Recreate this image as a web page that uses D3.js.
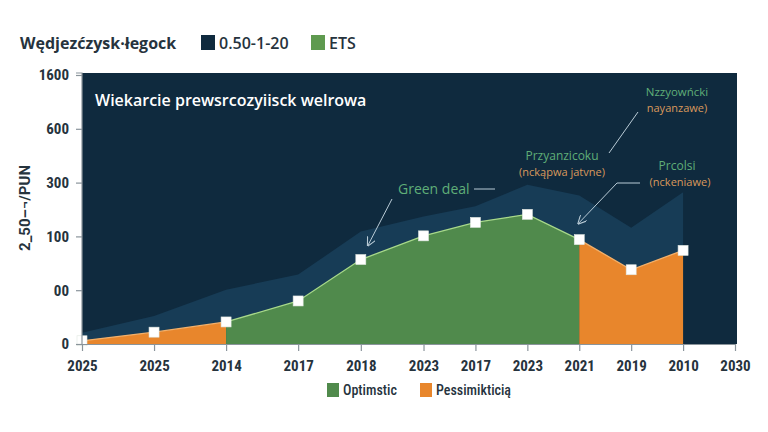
<!DOCTYPE html>
<html><head><meta charset="utf-8">
<script src="https://cdn.jsdelivr.net/npm/d3@7"></script>
<style>
html,body{margin:0;padding:0;background:#fff;}
svg{display:block;}
</style></head>
<body>
<svg id="c" width="768" height="432"></svg>
<script>
// ---- data ----
const categories = ["2025","2025","2014","2017","2018","2023","2017","2023","2021","2019","2010","2030"];
const mainValues = [6, 22, 41, 80, 157, 201, 226, 241, 194, 138, 174];
const bandValues = [21, 52, 101, 129, 209, 237, 256, 296, 276, 216, 282];
const segmentKind = ["pes","pes","opt","opt","opt","opt","opt","opt","pes","pes","pes"]; // colour of segment starting at each index
const yTickValues = [0, 100, 200, 300, 400, 500];
const yTickLabels = ["0", "00", "100", "300", "600", "1600"];
const legendTopTitle = "Wędjezćzysk·łegock";
const legendTopItems = ["0.50-1-20", "ETS"];
const legendBottomItems = ["Optimstic", "Pessimikticią"];
const yTitle = "2_50–¬/PUN";
const chartSubtitle = "Wiekarcie prewsrcozyiisck welrowa";

const C = {bg:"#0f2a3e", band:"#173c56", green:"#508a4c", orange:"#e8862c",
  gLine:"#a8d98a", oLine:"#f3b06a", text:"#26333d", gText:"#5fae78", oText:"#d9995c", axis:"#8a949b"};

const svg = d3.select("#c");
const L = 82, R = 735, T = 73, B = 344;
const W = R - L;
const x = d3.scaleLinear().domain([0, 3, 5, 11]).range([L, L + 0.331*W, L + 0.523*W, R]);
const y = d3.scaleLinear().domain([0, 500]).range([B, 75]);

// plot background
svg.append("rect").attr("x", L).attr("y", T).attr("width", R - L + 2).attr("height", B - T).attr("fill", C.bg);

// band area
const idx = d3.range(mainValues.length);
svg.append("path").datum(idx)
  .attr("fill", C.band)
  .attr("d", d3.area().x(i => x(i)).y0(y(0)).y1(i => y(bandValues[i]))(idx));

// main segments
const segs = [];
let start = 0;
for (let i = 1; i < mainValues.length; i++) {
  if (i === mainValues.length - 1 || segmentKind[i] !== segmentKind[start]) {
    segs.push({kind: segmentKind[start], from: start, to: i});
    start = i;
  }
}
const area = d3.area().x(i => x(i)).y0(y(0)).y1(i => y(mainValues[i]));
const line = d3.line().x(i => x(i)).y(i => y(mainValues[i]));
segs.forEach(s => {
  const ids = d3.range(s.from, s.to + 1);
  svg.append("path").attr("fill", s.kind === "opt" ? C.green : C.orange).attr("d", area(ids));
});
segs.forEach(s => {
  const ids = d3.range(s.from, s.to + 1);
  svg.append("path").attr("fill", "none").attr("stroke", s.kind === "opt" ? C.gLine : C.oLine)
    .attr("stroke-width", 1.3).attr("d", line(ids));
});

// markers
svg.selectAll("rect.m").data(idx).enter().append("rect")
  .attr("class", "m")
  .attr("x", i => x(i) - 5).attr("y", i => y(mainValues[i]) - 5)
  .attr("width", 10).attr("height", 10)
  .attr("fill", "#ffffff").attr("stroke", "#dfe6e0").attr("stroke-width", 0.6);

// axes
const fontAxis = "'Liberation Sans Narrow','Roboto Condensed',Roboto,sans-serif";
const yAxis = d3.axisLeft(y).tickValues(yTickValues).tickFormat((d, i) => yTickLabels[i]).tickSize(6).tickPadding(7);
const gy = svg.append("g").attr("transform", `translate(${L},0)`).call(yAxis);
gy.select(".domain").attr("stroke", C.axis).attr("stroke-width", 1.2).attr("d", `M-6,${T}H0V${B}`);
gy.selectAll(".tick line").attr("stroke", C.axis).attr("stroke-width", 1.2);
gy.selectAll(".tick text").attr("fill", C.text).style("font-family", fontAxis)
  .style("font-size", "15px").style("font-weight", "bold");

const xAxis = d3.axisBottom(x).tickValues(d3.range(categories.length)).tickFormat(i => categories[i]).tickSize(7).tickSizeOuter(0).tickPadding(9);
const gx = svg.append("g").attr("transform", `translate(0,${B})`).call(xAxis);
gx.select(".domain").attr("stroke", C.axis).attr("stroke-width", 1.2);
gx.selectAll(".tick line").attr("stroke", C.axis).attr("stroke-width", 1.2);
gx.selectAll(".tick text").attr("fill", C.text).style("font-family", fontAxis)
  .style("font-size", "15px").style("font-weight", "bold");

// y title
svg.append("text").attr("transform", "translate(30,208) rotate(-90)")
  .attr("text-anchor", "middle").attr("fill", C.text)
  .style("font-family", "Roboto,sans-serif").style("font-size", "15px").style("font-weight", "bold")
  .text(yTitle);

// subtitle inside plot
svg.append("text").attr("x", 95).attr("y", 106).attr("fill", "#ffffff")
  .style("font-family", "'Open Sans',sans-serif").style("font-size", "16px").style("font-weight", "600")
  .text(chartSubtitle);

// top legend
const fontLeg = "'Open Sans',Roboto,sans-serif";
svg.append("text").attr("x", 20).attr("y", 49).attr("fill", C.text)
  .style("font-family", fontLeg).style("font-size", "16px").style("font-weight", "bold")
  .text(legendTopTitle);
const topCols = [C.bg, "#5f9a4f"];
const topX = [201, 311];
legendTopItems.forEach((t, i) => {
  svg.append("rect").attr("x", topX[i]).attr("y", 35).attr("width", 14).attr("height", 15).attr("fill", topCols[i]);
  svg.append("text").attr("x", topX[i] + 18).attr("y", 49).attr("fill", C.text)
    .style("font-family", fontLeg).style("font-size", "16px").style("font-weight", "600").text(t);
});

// bottom legend
const botCols = [C.green, C.orange];
const botX = [327, 420];
legendBottomItems.forEach((t, i) => {
  svg.append("rect").attr("x", botX[i]).attr("y", 383).attr("width", 12).attr("height", 14).attr("fill", botCols[i]);
  svg.append("text").attr("x", botX[i] + 16).attr("y", 395).attr("fill", C.text)
    .style("font-family", fontAxis).style("font-size", "14px").style("font-weight", "500").text(t);
});

// annotations
const defs = svg.append("defs");
defs.append("marker").attr("id", "ah").attr("viewBox", "0 0 10 10").attr("refX", 9).attr("refY", 5)
  .attr("markerWidth", 9).attr("markerHeight", 9).attr("orient", "auto-start-reverse")
  .append("path").attr("d", "M0,0L10,5L0,10").attr("fill", "none").attr("stroke", "#b9cbd6").attr("stroke-width", 1.2);

const annFont = "'Open Sans',sans-serif";
function ann(txt, ax, ay, col, size, anchor, weight) {
  svg.append("text").attr("x", ax).attr("y", ay).attr("fill", col).attr("text-anchor", anchor || "middle")
    .style("font-family", annFont).style("font-size", size + "px").style("font-weight", weight || "normal").text(txt);
}
// Green deal (points to index 4)
ann("Green deal", 398, 194, C.gText, 14, "start", "500");
svg.append("line").attr("x1", 474).attr("y1", 189).attr("x2", 495).attr("y2", 189).attr("stroke", "#b9cbd6").attr("stroke-width", 1);
svg.append("line").attr("x1", 392).attr("y1", 199).attr("x2", x(4) + 7).attr("y2", y(mainValues[4]) - 14)
  .attr("stroke", "#b9cbd6").attr("stroke-width", 1).attr("marker-end", "url(#ah)");

ann("Przyanzicoku", 562, 160, C.gText, 12);
ann("(nckąpwa jatvne)", 562, 176, C.oText, 11);

ann("Nzzyowńcki", 677, 96, C.gText, 11.5);
ann("nayanzawe)", 677, 112, C.oText, 11);
svg.append("line").attr("x1", 638).attr("y1", 112).attr("x2", 609).attr("y2", 153).attr("stroke", "#b9cbd6").attr("stroke-width", 1);

ann("Prcolsi", 677, 170, C.gText, 12);
ann("(nckeniawe)", 680, 186, C.oText, 11);
svg.append("path").attr("d", `M640,183H617L${x(8) - 1},${y(mainValues[8]) - 16}`)
  .attr("fill", "none").attr("stroke", "#b9cbd6").attr("stroke-width", 1).attr("marker-end", "url(#ah)");
</script>
</body></html>
